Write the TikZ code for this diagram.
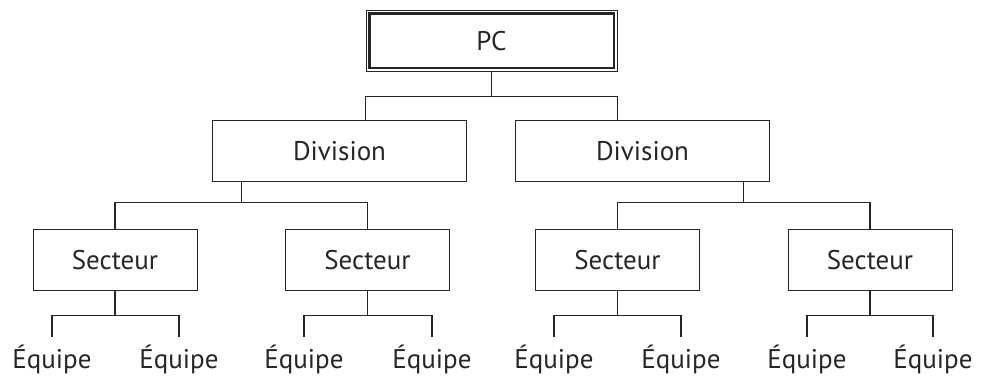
\documentclass[tikz,border=0pt]{standalone}
\usepackage{fontspec}
\setmainfont{PT Sans}
\usetikzlibrary{calc}
\begin{document}
\begin{tikzpicture}[x=1pt,y=-1pt,
  every node/.style={font=\fontsize{27}{32}\selectfont, text=black!85},
  box/.style={draw=black!85, line width=1pt, inner sep=0pt, minimum height=61pt, text height=19pt, text depth=0pt},
  divbox/.style={box, minimum width=254pt},
  secbox/.style={box, minimum width=164pt},
  leaf/.style={anchor=base, inner xsep=0pt, inner ysep=6pt, text height=25pt, text depth=0pt},
  link/.style={draw=black!85, line width=1.1pt}]
\useasboundingbox (0,0) rectangle (992,375);
% nodes
\node[box, minimum width=251pt, line width=0.8pt] (pc) at (491.5,40.5) {PC};
\draw[draw=black!85, line width=2.6pt] ([shift={(3.6pt,3.6pt)}]pc.south west) rectangle ([shift={(-3.6pt,-3.6pt)}]pc.north east);
\node[divbox] (d1) at (339.5,150.5) {Division};
\node[divbox] (d2) at (642.5,150.5) {Division};
\node[secbox] (s1) at (115,259.5) {Secteur};
\node[secbox] (s2) at (367.5,259.5) {Secteur};
\node[secbox] (s3) at (617.5,259.5) {Secteur};
\node[secbox] (s4) at (870,259.5) {Secteur};
\node[leaf] (e1) at (52,368) {Équipe};
\node[leaf] (e2) at (179,368) {Équipe};
\node[leaf] (e3) at (304,368) {Équipe};
\node[leaf] (e4) at (432,368) {Équipe};
\node[leaf] (e5) at (554,368) {Équipe};
\node[leaf] (e6) at (681,368) {Équipe};
\node[leaf] (e7) at (807,368) {Équipe};
\node[leaf] (e8) at (933,368) {Équipe};
% PC to divisions
\draw[link] (pc.south) -- ++(0,25) coordinate (pcj);
\draw[link] (d1.north -| pc.west) |- (pcj) -| (d2.north -| pc.east);
% divisions to sectors
\coordinate (m1) at ($(s1.north)!0.5!(s2.north)$);
\coordinate (m2) at ($(s3.north)!0.5!(s4.north)$);
\coordinate (j1) at ($(m1)+(0,-26)$);
\coordinate (j2) at ($(m2)+(0,-26)$);
\draw[link] (d1.south -| m1) -- (j1);
\draw[link] (s1.north) |- (j1) -| (s2.north);
\draw[link] (d2.south -| m2) -- (j2);
\draw[link] (s3.north) |- (j2) -| (s4.north);
% sectors to teams
\draw[link] (s1.south) -- ++(0,25) coordinate (k1);
\draw[link] (e1.north) |- (k1) -| (e2.north);
\draw[link] (s2.south) -- ++(0,25) coordinate (k2);
\draw[link] (e3.north) |- (k2) -| (e4.north);
\draw[link] (s3.south) -- ++(0,25) coordinate (k3);
\draw[link] (e5.north) |- (k3) -| (e6.north);
\draw[link] (s4.south) -- ++(0,25) coordinate (k4);
\draw[link] (e7.north) |- (k4) -| (e8.north);
\end{tikzpicture}
\end{document}
